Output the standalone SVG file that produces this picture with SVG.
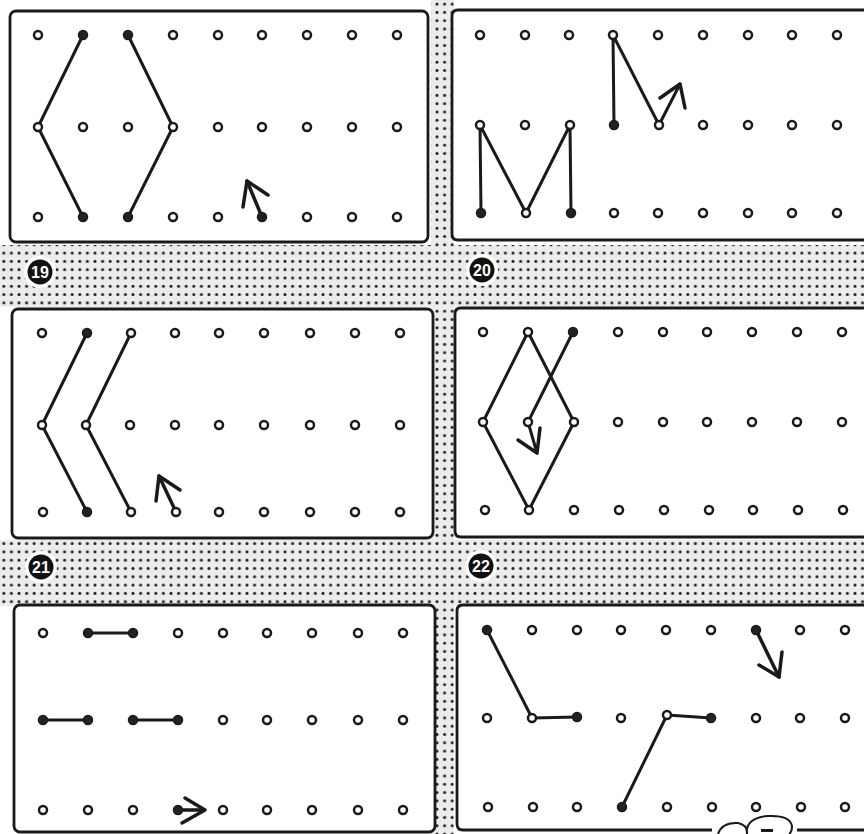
<svg xmlns="http://www.w3.org/2000/svg" width="864" height="834" viewBox="0 0 864 834">
<defs>
<pattern id="ht" width="7.6" height="8.3" patternUnits="userSpaceOnUse">
<rect width="7.6" height="8.3" fill="#ececec"/>
<circle cx="3.8" cy="4.1" r="1.5" fill="#222"/>
</pattern>
</defs>
<style>
.panel{fill:#fff;stroke:#1a1a1a;stroke-width:2.8}
.o{fill:#fff;stroke:#1a1a1a;stroke-width:2.5}
.f{fill:#222;stroke:#1a1a1a;stroke-width:1.5}
.ln{fill:none;stroke:#1a1a1a;stroke-width:3;stroke-linecap:round;stroke-linejoin:round}
.ar{fill:none;stroke:#1a1a1a;stroke-width:3.5;stroke-linecap:round;stroke-linejoin:round}
.badge{fill:#111}
.halo{fill:#fff}
.num{font-family:"Liberation Sans",Arial,sans-serif;font-weight:bold;font-size:16px;fill:#fff;text-anchor:middle}
</style>
<rect width="864" height="834" fill="#fff"/>
<g id="background">
<rect x="431" y="0" width="23" height="834" fill="url(#ht)"/>
<rect x="0" y="245" width="864" height="62" fill="url(#ht)"/>
<rect x="0" y="540" width="864" height="66" fill="url(#ht)"/>
</g>
<g id="labels">
<circle class="halo" cx="40" cy="272" r="16"/><circle class="badge" cx="40" cy="272" r="12.5"/><text class="num" x="40" y="278">19</text>
<circle class="halo" cx="482" cy="270" r="16"/><circle class="badge" cx="482" cy="270" r="12.5"/><text class="num" x="482" y="276">20</text>
<circle class="halo" cx="41" cy="567" r="16"/><circle class="badge" cx="41" cy="567" r="12.5"/><text class="num" x="41" y="573">21</text>
<circle class="halo" cx="481" cy="566" r="16"/><circle class="badge" cx="481" cy="566" r="12.5"/><text class="num" x="481" y="572">22</text>
</g>
<g id="panel1">
<rect class="panel" x="10" y="11" width="418" height="231" rx="6"/>
</g>
<g id="panel2">
<path class="panel" d="M880 10 H458 Q452 10 452 16 V234 Q452 240 458 240 H880"/>
</g>
<g id="panel3">
<rect class="panel" x="12" y="309" width="421" height="229" rx="6"/>
</g>
<g id="panel4">
<path class="panel" d="M880 308 H461 Q455 308 455 314 V531 Q455 537 461 537 H880"/>
</g>
<g id="panel5">
<rect class="panel" x="14" y="605" width="421" height="227" rx="6"/>
</g>
<g id="panel6">
<path class="panel" d="M880 605 H463 Q457 605 457 611 V824 Q457 830 463 830 H712"/>
<path class="panel" d="M797 830 H880" fill="none"/>
<path fill="none" stroke="#1a1a1a" stroke-width="2" d="M718 834 Q722 822 738 823 Q748 825 747 834 M747 834 Q745 818 768 816 Q790 815 792 826 Q792 832 789 834"/>
<rect x="761" y="829" width="12" height="3" fill="#1a1a1a"/>
</g>
<g id="connectors">
<polyline class="ln" points="83,35 38,127 83,217"/>
<polyline class="ln" points="128,35 173,127 128,217"/>
<polyline class="ar" points="262,217 247,181"/>
<polyline class="ar" points="243,207 247,181 268,195"/>
<polyline class="ln" points="481,213 480,125 526,213 570,125 571,213"/>
<polyline class="ln" points="614,125 613,35 659,125 680,84"/>
<polyline class="ar" points="660,98 680,84 685,108"/>
<polyline class="ln" points="87,333 42,425 87,512"/>
<polyline class="ln" points="131,333 86,425 131,512"/>
<polyline class="ar" points="176,512 159,476"/>
<polyline class="ar" points="156,501 159,476 180,490"/>
<polygon class="ln" points="528,332 483,422 529,510 574,422"/>
<polyline class="ln" points="573,332 528,422 537,453"/>
<polyline class="ar" points="518,440 537,453 540,428"/>
<line class="ln" x1="88" y1="633" x2="133" y2="633" stroke-width="3.4"/>
<line class="ln" x1="43" y1="720" x2="88" y2="720" stroke-width="3.4"/>
<line class="ln" x1="133" y1="720" x2="178" y2="720" stroke-width="3.4"/>
<line class="ar" x1="178" y1="810" x2="204" y2="810"/>
<polyline class="ar" points="185,798 205,810 182,823"/>
<polyline class="ln" points="487,630 532,718 577,717"/>
<polyline class="ln" points="622,807 667,715 711,718"/>
<polyline class="ar" points="756,630 779,677"/>
<polyline class="ar" points="759,665 779,677 782,652"/>
</g>
<g id="dots1">
<circle class="o" cx="38" cy="35" r="4"/><circle class="f" cx="83" cy="35" r="4.5"/><circle class="f" cx="128" cy="35" r="4.5"/><circle class="o" cx="173" cy="35" r="4"/><circle class="o" cx="218" cy="35" r="4"/><circle class="o" cx="262" cy="35" r="4"/><circle class="o" cx="307" cy="35" r="4"/><circle class="o" cx="352" cy="35" r="4"/><circle class="o" cx="397" cy="35" r="4"/>
<circle class="o" cx="38" cy="127" r="4"/><circle class="o" cx="83" cy="127" r="4"/><circle class="o" cx="128" cy="127" r="4"/><circle class="o" cx="173" cy="127" r="4"/><circle class="o" cx="218" cy="127" r="4"/><circle class="o" cx="262" cy="127" r="4"/><circle class="o" cx="307" cy="127" r="4"/><circle class="o" cx="352" cy="127" r="4"/><circle class="o" cx="397" cy="127" r="4"/>
<circle class="o" cx="38" cy="217" r="4"/><circle class="f" cx="83" cy="217" r="4.5"/><circle class="f" cx="128" cy="217" r="4.5"/><circle class="o" cx="173" cy="217" r="4"/><circle class="o" cx="218" cy="217" r="4"/><circle class="f" cx="262" cy="217" r="4.5"/><circle class="o" cx="307" cy="217" r="4"/><circle class="o" cx="352" cy="217" r="4"/><circle class="o" cx="397" cy="217" r="4"/>
</g>
<g id="dots2">
<circle class="o" cx="480" cy="35" r="4"/><circle class="o" cx="525" cy="35" r="4"/><circle class="o" cx="569" cy="35" r="4"/><circle class="o" cx="613" cy="35" r="4"/><circle class="o" cx="658" cy="35" r="4"/><circle class="o" cx="703" cy="35" r="4"/><circle class="o" cx="748" cy="35" r="4"/><circle class="o" cx="792" cy="35" r="4"/><circle class="o" cx="837" cy="35" r="4"/>
<circle class="o" cx="480" cy="125" r="4"/><circle class="o" cx="525" cy="125" r="4"/><circle class="o" cx="570" cy="125" r="4"/><circle class="f" cx="614" cy="125" r="4.5"/><circle class="o" cx="659" cy="125" r="4"/><circle class="o" cx="703" cy="125" r="4"/><circle class="o" cx="748" cy="125" r="4"/><circle class="o" cx="792" cy="125" r="4"/><circle class="o" cx="837" cy="125" r="4"/>
<circle class="f" cx="481" cy="213" r="4.5"/><circle class="o" cx="526" cy="213" r="4"/><circle class="f" cx="571" cy="213" r="4.5"/><circle class="o" cx="614" cy="213" r="4"/><circle class="o" cx="658" cy="213" r="4"/><circle class="o" cx="703" cy="213" r="4"/><circle class="o" cx="748" cy="213" r="4"/><circle class="o" cx="792" cy="213" r="4"/><circle class="o" cx="837" cy="213" r="4"/>
</g>
<g id="dots3">
<circle class="o" cx="42" cy="333" r="4"/><circle class="f" cx="87" cy="333" r="4.5"/><circle class="o" cx="131" cy="333" r="4"/><circle class="o" cx="175" cy="333" r="4"/><circle class="o" cx="219" cy="333" r="4"/><circle class="o" cx="264" cy="333" r="4"/><circle class="o" cx="310" cy="333" r="4"/><circle class="o" cx="355" cy="333" r="4"/><circle class="o" cx="400" cy="333" r="4"/>
<circle class="o" cx="42" cy="425" r="4"/><circle class="o" cx="86" cy="425" r="4"/><circle class="o" cx="130" cy="425" r="4"/><circle class="o" cx="175" cy="425" r="4"/><circle class="o" cx="219" cy="425" r="4"/><circle class="o" cx="264" cy="425" r="4"/><circle class="o" cx="310" cy="425" r="4"/><circle class="o" cx="355" cy="425" r="4"/><circle class="o" cx="400" cy="425" r="4"/>
<circle class="o" cx="43" cy="512" r="4"/><circle class="f" cx="87" cy="512" r="4.5"/><circle class="o" cx="131" cy="512" r="4"/><circle class="o" cx="176" cy="512" r="4"/><circle class="o" cx="219" cy="512" r="4"/><circle class="o" cx="264" cy="512" r="4"/><circle class="o" cx="310" cy="512" r="4"/><circle class="o" cx="355" cy="512" r="4"/><circle class="o" cx="400" cy="512" r="4"/>
</g>
<g id="dots4">
<circle class="o" cx="483" cy="332" r="4"/><circle class="o" cx="528" cy="332" r="4"/><circle class="f" cx="573" cy="332" r="4.5"/><circle class="o" cx="618" cy="332" r="4"/><circle class="o" cx="663" cy="332" r="4"/><circle class="o" cx="707" cy="332" r="4"/><circle class="o" cx="752" cy="332" r="4"/><circle class="o" cx="797" cy="332" r="4"/><circle class="o" cx="842" cy="332" r="4"/>
<circle class="o" cx="483" cy="422" r="4"/><circle class="o" cx="528" cy="422" r="4"/><circle class="o" cx="574" cy="422" r="4"/><circle class="o" cx="618" cy="422" r="4"/><circle class="o" cx="663" cy="422" r="4"/><circle class="o" cx="707" cy="422" r="4"/><circle class="o" cx="752" cy="422" r="4"/><circle class="o" cx="797" cy="422" r="4"/><circle class="o" cx="842" cy="422" r="4"/>
<circle class="o" cx="485" cy="510" r="4"/><circle class="o" cx="529" cy="510" r="4"/><circle class="o" cx="574" cy="510" r="4"/><circle class="o" cx="619" cy="510" r="4"/><circle class="o" cx="664" cy="510" r="4"/><circle class="o" cx="709" cy="510" r="4"/><circle class="o" cx="753" cy="510" r="4"/><circle class="o" cx="798" cy="510" r="4"/><circle class="o" cx="843" cy="510" r="4"/>
</g>
<g id="dots5">
<circle class="o" cx="43" cy="633" r="4"/><circle class="f" cx="88" cy="633" r="4.5"/><circle class="f" cx="133" cy="633" r="4.5"/><circle class="o" cx="178" cy="633" r="4"/><circle class="o" cx="223" cy="633" r="4"/><circle class="o" cx="267" cy="633" r="4"/><circle class="o" cx="312" cy="633" r="4"/><circle class="o" cx="358" cy="633" r="4"/><circle class="o" cx="403" cy="633" r="4"/>
<circle class="f" cx="43" cy="720" r="4.5"/><circle class="f" cx="88" cy="720" r="4.5"/><circle class="f" cx="133" cy="720" r="4.5"/><circle class="f" cx="178" cy="720" r="4.5"/><circle class="o" cx="223" cy="720" r="4"/><circle class="o" cx="267" cy="720" r="4"/><circle class="o" cx="312" cy="720" r="4"/><circle class="o" cx="358" cy="720" r="4"/><circle class="o" cx="403" cy="720" r="4"/>
<circle class="o" cx="43" cy="810" r="4"/><circle class="o" cx="88" cy="810" r="4"/><circle class="o" cx="133" cy="810" r="4"/><circle class="f" cx="178" cy="810" r="4.5"/><circle class="o" cx="223" cy="810" r="4"/><circle class="o" cx="267" cy="810" r="4"/><circle class="o" cx="312" cy="810" r="4"/><circle class="o" cx="358" cy="810" r="4"/><circle class="o" cx="403" cy="810" r="4"/>
</g>
<g id="dots6">
<circle class="f" cx="487" cy="630" r="4.5"/><circle class="o" cx="532" cy="630" r="4"/><circle class="o" cx="577" cy="630" r="4"/><circle class="o" cx="621" cy="630" r="4"/><circle class="o" cx="666" cy="630" r="4"/><circle class="o" cx="711" cy="630" r="4"/><circle class="f" cx="756" cy="630" r="4.5"/><circle class="o" cx="800" cy="630" r="4"/><circle class="o" cx="845" cy="630" r="4"/>
<circle class="o" cx="487" cy="718" r="4"/><circle class="o" cx="532" cy="718" r="4"/><circle class="f" cx="577" cy="717" r="4.5"/><circle class="o" cx="621" cy="718" r="4"/><circle class="o" cx="667" cy="715" r="4"/><circle class="f" cx="711" cy="718" r="4.5"/><circle class="o" cx="756" cy="718" r="4"/><circle class="o" cx="800" cy="718" r="4"/><circle class="o" cx="845" cy="718" r="4"/>
<circle class="o" cx="488" cy="807" r="4"/><circle class="o" cx="533" cy="807" r="4"/><circle class="o" cx="577" cy="807" r="4"/><circle class="f" cx="622" cy="807" r="4.5"/><circle class="o" cx="667" cy="807" r="4"/><circle class="o" cx="712" cy="807" r="4"/><circle class="o" cx="756" cy="807" r="4"/><circle class="o" cx="801" cy="807" r="4"/><circle class="o" cx="845" cy="807" r="4"/>
</g>
</svg>
